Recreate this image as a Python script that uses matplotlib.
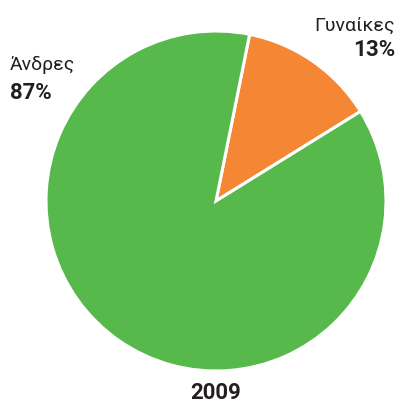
import matplotlib.pyplot as plt
from matplotlib import font_manager

labels = ['Γυναίκες', 'Άνδρες']
values = [13, 87]
colors = ['#f58634', '#57b84b']

names = {f.name for f in font_manager.fontManager.ttflist}
family = ['Liberation Sans Narrow', 'DejaVu Sans'] if 'Liberation Sans Narrow' in names else ['Roboto', 'DejaVu Sans']
plt.rcParams['font.family'] = family

W, H = 401, 404
fig = plt.figure(figsize=(W / 100, H / 100), dpi=100)

# pie centre and radius in pixels
cx, cy, r = 216, 201, 170
ax = fig.add_axes([(cx - r) / W, 1 - (cy + r) / H, 2 * r / W, 2 * r / H])
ax.pie(values, colors=colors, startangle=78.6, counterclock=False, radius=1,
       wedgeprops={'edgecolor': 'white', 'linewidth': 2.2})
ax.set_xlim(-1, 1)
ax.set_ylim(-1, 1)
ax.set_aspect('equal')
ax.axis('off')

txt = '#231f20'
fig.text(10 / W, 1 - 70 / H, labels[1], fontsize=14, color=txt, ha='left', va='baseline')
fig.text(10 / W, 1 - 99 / H, f'{values[1]}%', fontsize=16, fontweight='bold', color=txt, ha='left', va='baseline')
fig.text(395 / W, 1 - 31 / H, labels[0], fontsize=14, color=txt, ha='right', va='baseline')
fig.text(395 / W, 1 - 56 / H, f'{values[0]}%', fontsize=16, fontweight='bold', color=txt, ha='right', va='baseline')
fig.text(216 / W, 1 - 399 / H, '2009', fontsize=16, fontweight='bold', color=txt, ha='center', va='baseline')

fig.savefig('out.png', dpi=100)
